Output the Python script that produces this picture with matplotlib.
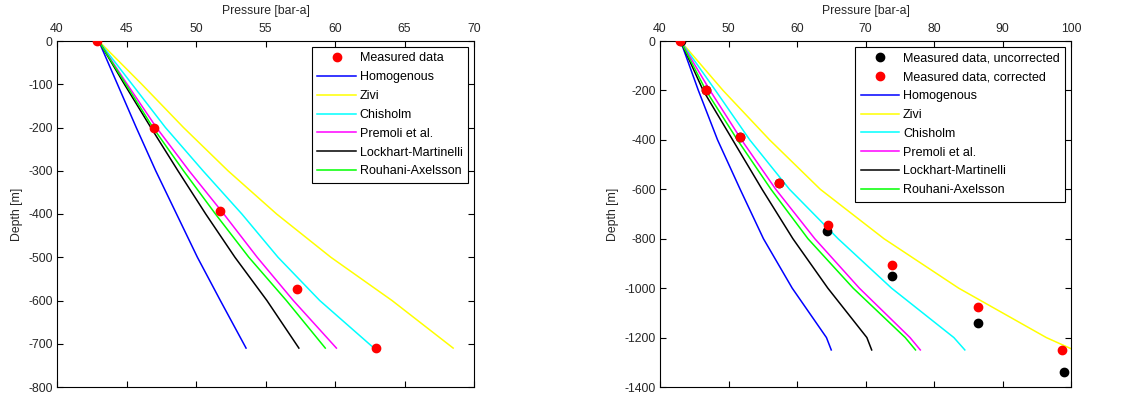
import matplotlib
matplotlib.use('Agg')
import matplotlib.pyplot as plt

plt.rcParams['font.family'] = ['Liberation Sans', 'DejaVu Sans']
plt.rcParams['font.size'] = 8.8
plt.rcParams['axes.unicode_minus'] = False

# ---- left plot data ----
left_depth = [0, -100, -200, -300, -400, -500, -600, -710]
left_homogenous = [43.0, 44.35, 45.7, 47.1, 48.6, 50.1, 51.75, 53.6]
left_zivi = [43.0, 46.1, 49.1, 52.3, 55.8, 59.7, 64.1, 68.5]
left_chisholm = [43.0, 45.4, 47.8, 50.5, 53.3, 55.9, 58.9, 62.8]
left_premoli = [43.0, 45.05, 47.15, 49.5, 52.0, 54.4, 57.0, 60.1]
left_lockhart = [43.0, 44.85, 46.75, 48.7, 50.7, 52.8, 55.1, 57.4]
left_rouhani = [43.0, 44.95, 46.9, 49.1, 51.4, 53.8, 56.5, 59.3]

left_meas_p = [42.9, 46.95, 51.73, 57.3, 62.93]
left_meas_d = [0, -200, -393, -574, -710]

# ---- right plot data ----
right_depth = [0, -200, -400, -600, -800, -1000, -1200, -1250]
right_homogenous = [43.0, 45.6, 48.4, 51.7, 55.1, 59.3, 64.3, 65.0]
right_zivi = [43.0, 49.2, 56.0, 63.4, 72.7, 83.6, 96.4, 100.4]
right_chisholm = [43.0, 48.1, 53.1, 58.9, 66.0, 73.8, 82.9, 84.5]
right_premoli = [43.0, 47.3, 51.9, 56.9, 62.6, 69.1, 76.5, 78.0]
right_lockhart = [43.0, 46.3, 50.6, 54.9, 59.4, 64.5, 70.2, 70.9]
right_rouhani = [43.0, 46.7, 51.3, 56.2, 61.6, 68.2, 75.8, 77.3]

uncorr_p = [43.0, 46.7, 51.7, 57.3, 64.35, 73.85, 86.4, 99.0]
uncorr_d = [-2, -200, -390, -575, -769, -950, -1143, -1339]
corr_p = [42.9, 46.7, 51.7, 57.3, 64.5, 73.85, 86.4, 98.7]
corr_d = [0, -200, -390, -575, -746, -907, -1078, -1251]

model_names = ['Homogenous', 'Zivi', 'Chisholm', 'Premoli et al.',
               'Lockhart-Martinelli', 'Rouhani-Axelsson']
model_colors = ['#0000ff', '#ffff00', '#00ffff', '#ff00ff', '#000000', '#00ff00']

fig = plt.figure(figsize=(11.29, 3.97), dpi=100)
ax1 = fig.add_axes([57 / 1129, 1 - 387 / 397, 417 / 1129, 346 / 397])
ax2 = fig.add_axes([660 / 1129, 1 - 387 / 397, 411 / 1129, 346 / 397])


def style_axes(ax):
    ax.xaxis.set_label_position('top')
    ax.tick_params(direction='in', top=True, bottom=True, left=True, right=True,
                   labeltop=True, labelbottom=False, length=4, width=0.8,
                   pad=3, colors='black', labelcolor='#262626')
    ax.tick_params(axis='x', pad=4)
    for s in ax.spines.values():
        s.set_linewidth(0.8)
    ax.set_xlabel('Pressure [bar-a]', labelpad=7, color='#262626')
    ax.set_ylabel('Depth [m]', labelpad=4, color='#262626')


def add_legend(ax):
    leg = ax.legend(loc='upper right', fancybox=False, edgecolor='black',
                    framealpha=1, handlelength=3.1, labelspacing=0.55,
                    borderaxespad=0.45, borderpad=0.45, handletextpad=0.3,
                    fontsize=9)
    leg.get_frame().set_linewidth(0.8)


# left
ax1.plot(left_meas_p, left_meas_d, 'o', color='red', markersize=6,
         label='Measured data', zorder=5)
left_models = [left_homogenous, left_zivi, left_chisholm, left_premoli,
               left_lockhart, left_rouhani]
for p, c, n in zip(left_models, model_colors, model_names):
    ax1.plot(p, left_depth, color=c, lw=1.1, label=n)
ax1.set_xlim(40, 70)
ax1.set_ylim(-800, 0)
ax1.set_xticks(range(40, 71, 5))
ax1.set_yticks(range(-800, 1, 100))
style_axes(ax1)
add_legend(ax1)

# right
ax2.plot(uncorr_p, uncorr_d, 'o', color='black', markersize=6,
         label='Measured data, uncorrected', zorder=5)
ax2.plot(corr_p, corr_d, 'o', color='red', markersize=6,
         label='Measured data, corrected', zorder=6)
right_models = [right_homogenous, right_zivi, right_chisholm, right_premoli,
                right_lockhart, right_rouhani]
for p, c, n in zip(right_models, model_colors, model_names):
    ax2.plot(p, right_depth, color=c, lw=1.1, label=n)
ax2.set_xlim(40, 100)
ax2.set_ylim(-1400, 0)
ax2.set_xticks(range(40, 101, 10))
ax2.set_yticks(range(-1400, 1, 200))
style_axes(ax2)
add_legend(ax2)

fig.savefig('out.png', dpi=100)
